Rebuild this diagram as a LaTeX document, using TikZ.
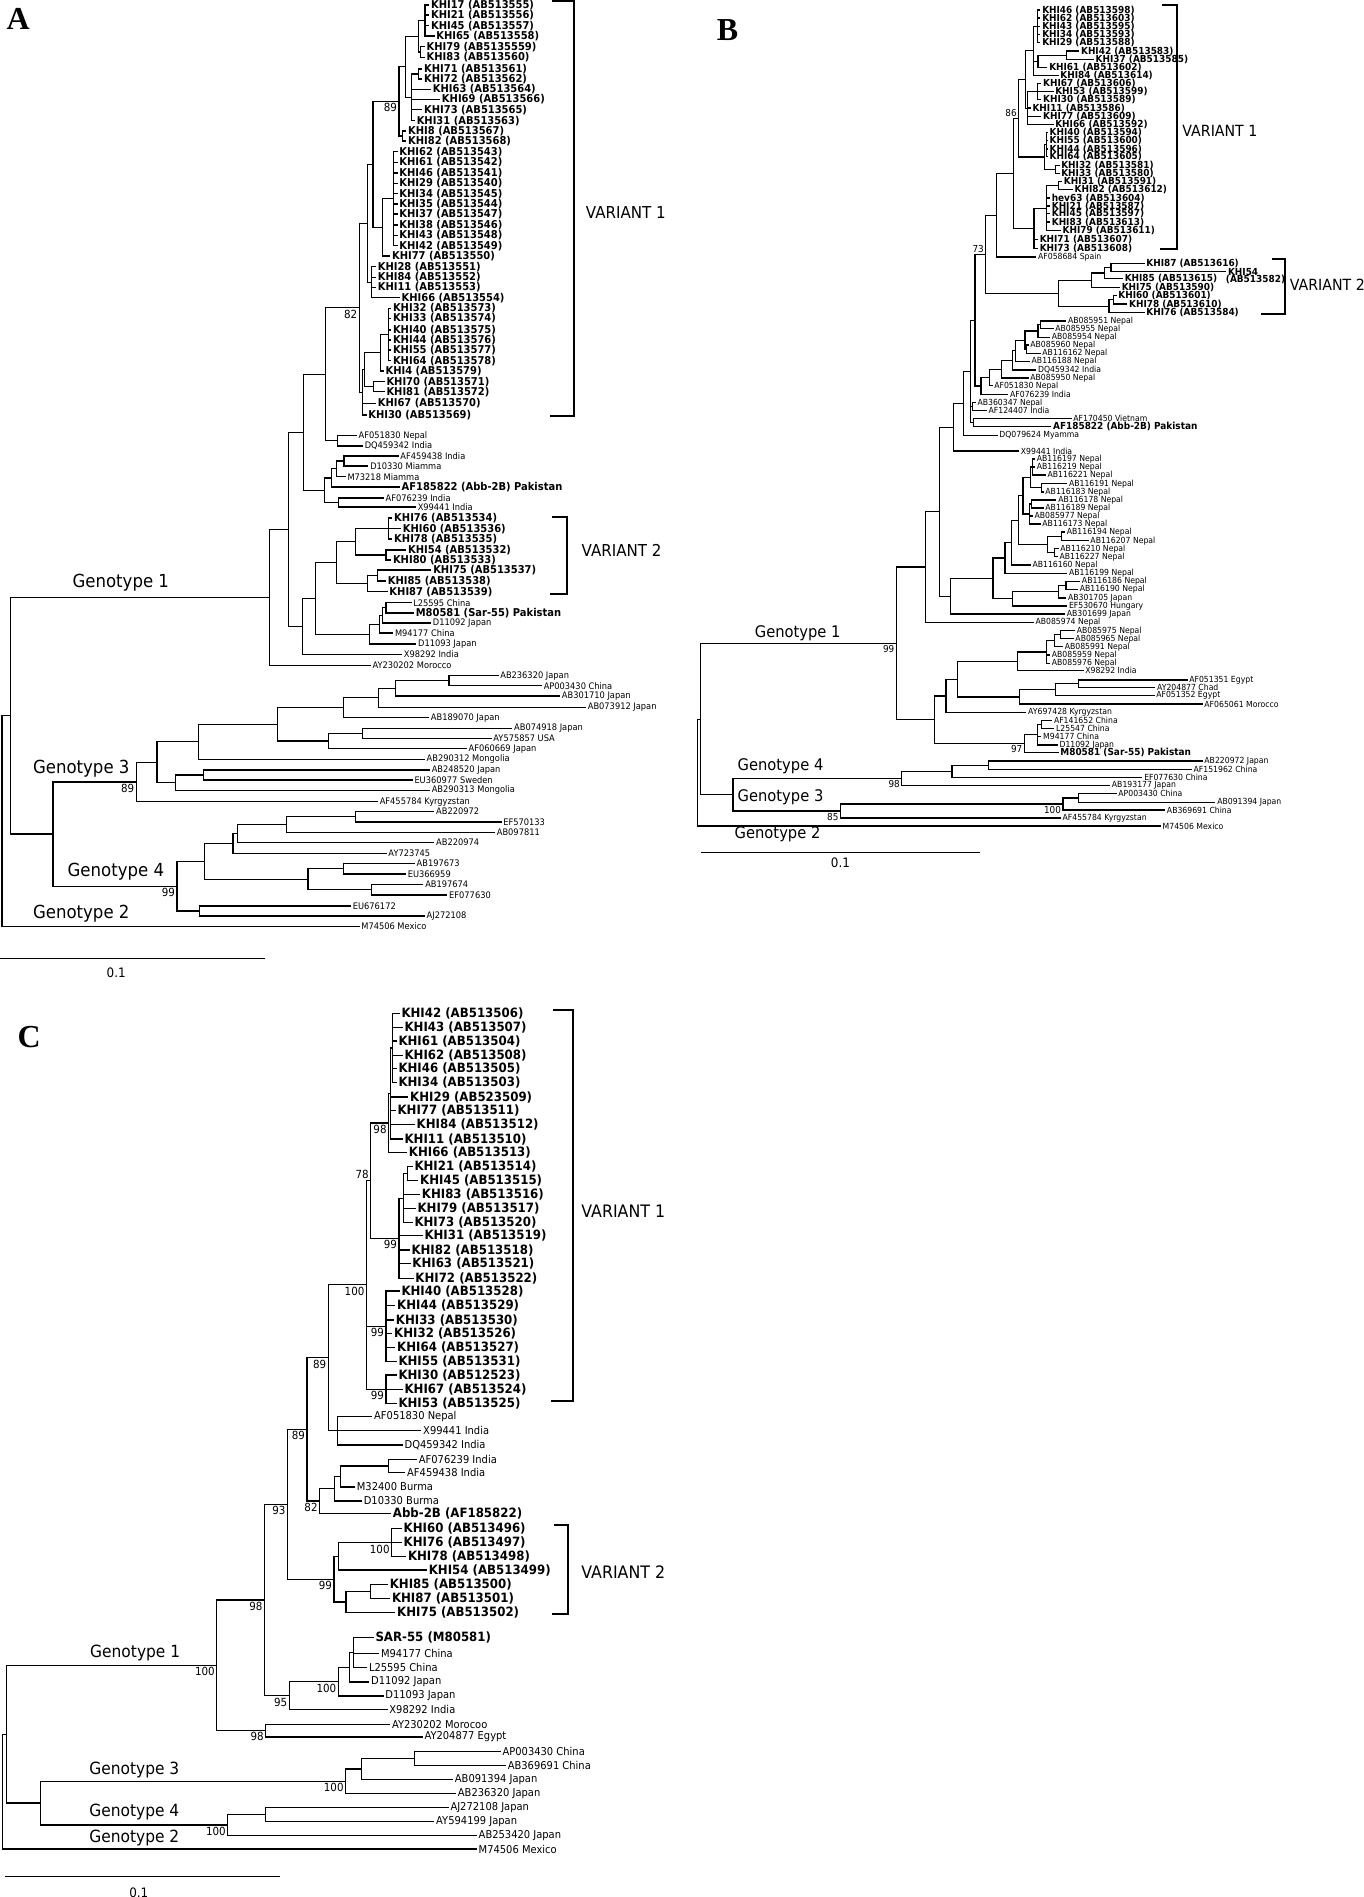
\documentclass[tikz,border=0pt]{standalone}
\usepackage{fontspec}
\newfontfamily\leaffont[FakeStretch=0.92]{DejaVu Sans}
\newfontfamily\panelfont{Liberation Serif}
% leaf: [style] name, parent x, tip x, y, text
\newcommand\hleaf[6][lbl]{%
  \coordinate (#2) at (#4,#5);
  \draw[br] (#3,#5) -- (#2);
  \node[#1] (#2-t) at (#2) {#6};}
% inner node: name, parent x, x, first child, last child
\newcommand\hnode[5]{%
  \path (#4) -- (#5) coordinate[pos=.5] (#1-m);
  \coordinate (#1) at (#3,0 |- #1-m);
  \draw[br] (#1 |- #4) -- (#1 |- #5);
  \draw[br] (#2,0 |- #1) -- (#1);}
% bootstrap value next to a node
\newcommand\hboot[3][north east]{\node[bsl,anchor=#1] (#2-bs) at (#2) {#3};}
\begin{document}
\begin{tikzpicture}[x=0.5pt,y=-0.5pt,
  br/.style={line width=0.6pt,line cap=rect},
  brk/.style={line width=1pt},
  leaf/.style={anchor=west,inner sep=0pt,xshift=1pt},
  boot/.style={inner sep=0.8pt},
  panel/.style={font=\panelfont\bfseries\fontsize{16}{18}\selectfont},
  sc/.style={font=\leaffont\fontsize{6.5}{7}\selectfont}]
\path[use as bounding box,fill=white] (0,0) rectangle (1364,1897);

%%% panel A
\begin{scope}[xscale=0.989,
  lbl/.style={leaf,font=\leaffont\fontsize{4.5}{5}\selectfont},
  klbl/.style={leaf,font=\leaffont\bfseries\fontsize{5.4}{6}\selectfont},
  bsl/.style={boot,font=\leaffont\fontsize{5.6}{6}\selectfont},
  gen/.style={anchor=west,inner sep=0pt,font=\leaffont\fontsize{9}{10}\selectfont}]
\node[panel] (pA) at (18.5,19.3) {A};
% variant 1
\hleaf[klbl]{a17}{429.8}{433.5}{5}{KHI17 (AB513555)}
\hleaf[klbl]{a21}{429.8}{433.5}{15}{KHI21 (AB513556)}
\hleaf[klbl]{a45}{429.8}{433.5}{25.7}{KHI45 (AB513557)}
\hleaf[klbl]{a65}{429.8}{438.8}{36}{KHI65 (AB513558)}
\hnode{an1}{423.2}{429.8}{a17}{a65}
\hleaf[klbl]{a79}{425.4}{429}{46.7}{KHI79 (AB5135559)}
\hleaf[klbl]{a83}{425.4}{429}{57.3}{KHI83 (AB513560)}
\hnode{an2}{423.2}{425.4}{a79}{a83}
\hnode{an3}{410}{423.2}{an1}{an2}
\hleaf[klbl]{a71}{423}{426.5}{69}{KHI71 (AB513561)}
\hleaf[klbl]{a72}{423}{426.5}{79}{KHI72 (AB513562)}
\hnode{an4}{415.8}{423}{a71}{a72}
\hleaf[klbl]{a63}{415.8}{435.3}{89.3}{KHI63 (AB513564)}
\hleaf[klbl]{a69}{415.8}{444.5}{99.3}{KHI69 (AB513566)}
\hleaf[klbl]{a73}{415.8}{426.5}{109.7}{KHI73 (AB513565)}
\hleaf[klbl]{a31}{415.8}{419}{120.7}{KHI31 (AB513563)}
\hnode{an5}{410}{415.8}{an4}{a31}
\hnode{an6}{403.5}{410}{an3}{an5}
\hleaf[klbl]{a8}{407}{410.3}{131}{KHI8 (AB513567)}
\hleaf[klbl]{a82}{407}{410.3}{141}{KHI82 (AB513568)}
\hnode{an7}{403.5}{407}{a8}{a82}
\hnode{an8}{377.2}{403.5}{an6}{an7}
\hboot{an8}{89}
\hleaf[klbl]{a62}{398.2}{401.5}{151.7}{KHI62 (AB513543)}
\hleaf[klbl]{a61}{398.2}{401.5}{162.3}{KHI61 (AB513542)}
\hleaf[klbl]{a46}{398.2}{401.5}{173}{KHI46 (AB513541)}
\hleaf[klbl]{a29}{398.2}{401.5}{183.3}{KHI29 (AB513540)}
\hleaf[klbl]{a34}{398.2}{401.5}{193.7}{KHI34 (AB513545)}
\hleaf[klbl]{a35}{398.2}{401.5}{204}{KHI35 (AB513544)}
\hleaf[klbl]{a37}{398.2}{401.5}{214}{KHI37 (AB513547)}
\hleaf[klbl]{a38}{398.2}{401.5}{225}{KHI38 (AB513546)}
\hleaf[klbl]{a43}{398.2}{401.5}{235.3}{KHI43 (AB513548)}
\hleaf[klbl]{a42}{398.2}{401.5}{245.7}{KHI42 (AB513549)}
\hnode{an9}{386.8}{398.2}{a62}{a42}
\hleaf[klbl]{a77}{386.8}{394}{256}{KHI77 (AB513550)}
\hnode{an10}{377.2}{386.8}{an9}{a77}
\hnode{an11}{372}{377.2}{an8}{an10}
\hleaf[klbl]{a28}{375.9}{379.6}{266.7}{KHI28 (AB513551)}
\hleaf[klbl]{a84}{375.9}{379.6}{277.3}{KHI84 (AB513552)}
\hleaf[klbl]{a11}{375.9}{379.6}{287.3}{KHI11 (AB513553)}
\hleaf[klbl]{a66}{375.9}{403.7}{297.7}{KHI66 (AB513554)}
\hnode{an12}{372}{375.9}{a28}{a66}
\hnode{an13}{363.2}{372}{an11}{an12}
\hleaf[klbl]{a32}{392.5}{395}{308.3}{KHI32 (AB513573)}
\hleaf[klbl]{a33}{392.5}{395}{318.3}{KHI33 (AB513574)}
\hleaf[klbl]{a40}{392.5}{395}{330}{KHI40 (AB513575)}
\hleaf[klbl]{a44}{392.5}{395}{340}{KHI44 (AB513576)}
\hleaf[klbl]{a55}{392.5}{395}{350}{KHI55 (AB513577)}
\hleaf[klbl]{a64}{392.5}{395}{360.7}{KHI64 (AB513578)}
\hnode{an14}{385}{392.5}{a32}{a64}
\hleaf[klbl]{a4}{385}{387.5}{371}{KHI4 (AB513579)}
\hnode{an15}{368.4}{385}{an14}{a4}
\hleaf[klbl]{a70}{378}{388.4}{381.7}{KHI70 (AB513571)}
\hleaf[klbl]{a81}{378}{388.4}{391.7}{KHI81 (AB513572)}
\hnode{an16}{368.4}{378}{a70}{a81}
\hnode{an17}{366.7}{368.4}{an15}{an16}
\hleaf[klbl]{a67}{366.7}{379.6}{403.3}{KHI67 (AB513570)}
\hleaf[klbl]{a30}{366.7}{370}{415}{KHI30 (AB513569)}
\hnode{an18}{363.2}{366.7}{an17}{a30}
\hnode{an19}{329}{363.2}{an13}{an18}
\hboot{an19}{82}
\hleaf{aaf051830}{341.2}{360.3}{435.7}{AF051830 Nepal}
\hleaf{adq459342}{341.2}{366.4}{446}{DQ459342 India}
\hnode{an20}{329}{341.2}{aaf051830}{adq459342}
\hnode{an21}{307}{329}{an19}{an20}
\hleaf{aaf459438}{347.8}{402.4}{456}{AF459438 India}
\hleaf{ad10330}{347.8}{372}{466}{D10330 Miamma}
\hnode{am1}{340}{347.8}{aaf459438}{ad10330}
\hleaf{am73218}{340}{349}{476.7}{M73218 Miamma}
\hnode{am2}{335.5}{340}{am1}{am73218}
\hleaf[klbl]{aaf185822}{335.5}{403.7}{487}{AF185822 (Abb-2B) Pakistan}
\hnode{am3}{328}{335.5}{am2}{aaf185822}
\hleaf{aaf076239}{342}{387.5}{498}{AF076239 India}
\hleaf{ax99441}{342}{420}{507}{X99441 India}
\hnode{am4}{328}{342}{aaf076239}{ax99441}
\hnode{am5}{307}{328}{am3}{am4}
\hnode{an22}{291.7}{307}{an21}{am5}
% variant 2
\hleaf[klbl]{a76}{392.5}{396.2}{518}{KHI76 (AB513534)}
\hleaf[klbl]{a60}{392.5}{405}{528.7}{KHI60 (AB513536)}
\hleaf[klbl]{a78}{392.5}{396.2}{539}{KHI78 (AB513535)}
\hnode{av1}{359.6}{392.5}{a76}{a78}
\hleaf[klbl]{a54}{390.4}{410.3}{550}{KHI54 (AB513532)}
\hleaf[klbl]{a80}{390.4}{395}{560}{KHI80 (AB513533)}
\hnode{av2}{359.6}{390.4}{a54}{a80}
\hnode{av3}{340}{359.6}{av1}{av2}
\hleaf[klbl]{a75}{381.6}{435.7}{570}{KHI75 (AB513537)}
\hleaf[klbl]{a85}{381.6}{389.7}{581}{KHI85 (AB513538)}
\hnode{av4}{372}{381.6}{a75}{a85}
\hleaf[klbl]{a87}{372}{391.4}{591.7}{KHI87 (AB513539)}
\hnode{av5}{340}{372}{av4}{a87}
\hnode{av6}{319.3}{340}{av3}{av5}
\hleaf{al25595}{390.4}{415.5}{602.7}{L25595 China}
\hleaf[klbl]{am80581}{390.4}{418}{613}{M80581 (Sar-55) Pakistan}
\hnode{ac1}{386.8}{390.4}{al25595}{am80581}
\hleaf{ad11092}{386.8}{435.3}{623}{D11092 Japan}
\hnode{ac2}{383.8}{386.8}{ac1}{ad11092}
\hleaf{am94177}{383.8}{397}{633}{M94177 China}
\hnode{ac3}{373.7}{383.8}{ac2}{am94177}
\hleaf{ad11093}{373.7}{420.4}{644}{D11093 Japan}
\hnode{ac4}{319.3}{373.7}{ac3}{ad11093}
\hnode{av7}{305.7}{319.3}{av6}{ac4}
\hleaf{ax98292}{305.7}{406}{654.5}{X98292 India}
\hnode{av8}{291.7}{305.7}{av7}{ax98292}
\hnode{an23}{272.8}{291.7}{an22}{av8}
\hleaf{aay230202}{272.8}{374.3}{665.3}{AY230202 Morocco}
\hnode{ag1}{11}{272.8}{an23}{aay230202}
% genotype 3
\hleaf{aab236320}{454}{503.5}{675.7}{AB236320 Japan}
\hleaf{aap003430}{454}{547.4}{685.7}{AP003430 China}
\hnode{ah1}{400}{454}{aab236320}{aap003430}
\hleaf{aab301710}{400}{565.8}{696}{AB301710 Japan}
\hnode{ah2}{382.9}{400}{ah1}{aab301710}
\hleaf{aab073912}{382.9}{592}{707.3}{AB073912 Japan}
\hnode{ah3}{347.4}{382.9}{ah2}{aab073912}
\hleaf{aab189070}{347.4}{433.3}{717.7}{AB189070 Japan}
\hnode{ah4}{280.7}{347.4}{ah3}{aab189070}
\hleaf{aab074918}{366.2}{517.5}{728.3}{AB074918 Japan}
\hleaf{aay575857}{366.2}{496.5}{738.3}{AY575857 USA}
\hnode{ah5}{332.5}{366.2}{aab074918}{aay575857}
\hleaf{aaf060669}{332.5}{471.5}{748.7}{AF060669 Japan}
\hnode{ah6}{280.7}{332.5}{ah5}{aaf060669}
\hnode{ah7}{200.4}{280.7}{ah4}{ah6}
\hleaf{aab290312}{200.4}{429}{759.3}{AB290312 Mongolia}
\hnode{ah8}{158.8}{200.4}{ah7}{aab290312}
\hleaf{aab248520}{206.1}{434.2}{770}{AB248520 Japan}
\hleaf{aeu360977}{206.1}{416.7}{780}{EU360977 Sweden}
\hnode{ah9}{177.2}{206.1}{aab248520}{aeu360977}
\hleaf{aab290313}{177.2}{434.2}{790.3}{AB290313 Mongolia}
\hnode{ah10}{158.8}{177.2}{ah9}{aab290313}
\hnode{ah11}{137.7}{158.8}{ah8}{ah10}
\hleaf{aaf455784}{137.7}{381.6}{801.7}{AF455784 Kyrgyzstan}
\hnode{ag3}{53.5}{137.7}{ah11}{aaf455784}
\hboot{ag3}{89}
% genotype 4
\hleaf{aab220972}{359.6}{438.6}{811.7}{AB220972}
\hleaf{aef570133}{359.6}{506.6}{822}{EF570133}
\hnode{ak1}{289.5}{359.6}{aab220972}{aef570133}
\hleaf{aab097811}{289.5}{500}{832.3}{AB097811}
\hnode{ak2}{240.4}{289.5}{ak1}{aab097811}
\hleaf{aab220974}{240.4}{438.6}{842.7}{AB220974}
\hnode{ak3}{235.5}{240.4}{ak2}{aab220974}
\hleaf{aay723745}{235.5}{390.4}{853.3}{AY723745}
\hnode{ak4}{206.6}{235.5}{ak3}{aay723745}
\hleaf{aab197673}{347.4}{418.9}{863.7}{AB197673}
\hleaf{aeu366959}{347.4}{410}{874}{EU366959}
\hnode{ak5}{311.4}{347.4}{aab197673}{aeu366959}
\hleaf{aab197674}{375.9}{427.6}{884.3}{AB197674}
\hleaf{aef077630}{375.9}{451.8}{895}{EF077630}
\hnode{ak6}{311.4}{375.9}{aab197674}{aef077630}
\hnode{ak7}{206.6}{311.4}{ak5}{ak6}
\hnode{ak8}{179}{206.6}{ak4}{ak7}
\hleaf{aeu676172}{201.8}{354.4}{906}{EU676172}
\hleaf{aaj272108}{201.8}{429}{916}{AJ272108}
\hnode{ak9}{179}{201.8}{aeu676172}{aaj272108}
\hnode{ag4}{53.5}{179}{ak8}{ak9}
\hboot{ag4}{99}
\hnode{ar2}{11}{53.5}{ag3}{ag4}
\hnode{ar1}{2}{11}{ag1}{ar2}
\hleaf{am74506}{2}{363}{926.3}{M74506 Mexico}
\hnode{aroot}{2}{2}{ar1}{am74506}
% labels
\node[gen] (agt1) at (73,583) {Genotype 1};
\node[gen] (agt3) at (33,768.3) {Genotype 3};
\node[gen] (agt4) at (68,871.7) {Genotype 4};
\node[gen] (agt2) at (33,913.3) {Genotype 2};
\draw[brk] (558,1) -- (580,1) -- (580,415.7) -- (556,415.7);
\node[gen,font=\leaffont\fontsize{8.2}{9}\selectfont] (avar1) at (592,212.7) {VARIANT 1};
\draw[brk] (558,516.7) -- (573.7,516.7) -- (573.7,594.3) -- (556,594.3);
\node[gen,font=\leaffont\fontsize{8.2}{9}\selectfont] (avar2) at (587.7,550.7) {VARIANT 2};
\draw[br] (0,958.3) -- (267.5,958.3);
\node[sc] (asc) at (117.5,972.7) {0.1};
\end{scope}

%%% panel B
\begin{scope}[xshift=4pt,xscale=0.9884,
  lbl/.style={leaf,font=\leaffont\fontsize{4.2}{5}\selectfont},
  klbl/.style={leaf,font=\leaffont\bfseries\fontsize{4.85}{5}\selectfont},
  bsl/.style={boot,font=\leaffont\fontsize{4.8}{5}\selectfont},
  gen/.style={anchor=west,inner sep=0pt,font=\leaffont\fontsize{8}{9}\selectfont}]
\node[panel] (pB) at (728,30) {B};
% variant 1
\hleaf[klbl]{b46}{1041.3}{1044}{10}{KHI46 (AB513598)}
\hleaf[klbl]{b62}{1041.3}{1044}{18}{KHI62 (AB513603)}
\hleaf[klbl]{b43}{1041.3}{1044}{26.3}{KHI43 (AB513595)}
\hleaf[klbl]{b34}{1041.3}{1044}{34.3}{KHI34 (AB513593)}
\hleaf[klbl]{b29}{1041.3}{1044}{42.7}{KHI29 (AB513588)}
\hnode{bp1}{1037.8}{1041.3}{b46}{b29}
\hleaf[klbl]{b42}{1071.3}{1083.3}{51}{KHI42 (AB513583)}
\hleaf[klbl]{b37}{1071.3}{1098.1}{59.3}{KHI37 (AB513585)}
\hnode{bp1b}{1042.2}{1071.3}{b42}{b37}
\hleaf[klbl]{b61}{1042.2}{1051.1}{67.3}{KHI61 (AB513602)}
\hnode{bp2}{1037.8}{1042.2}{bp1b}{b61}
\hleaf[klbl]{b84}{1037.8}{1062.4}{75.3}{KHI84 (AB513614)}
\hnode{bp3}{1029.1}{1037.8}{bp1}{b84}
\hleaf[klbl]{b67}{1041.3}{1045}{83.7}{KHI67 (AB513606)}
\hleaf[klbl]{b53}{1041.3}{1057.2}{91.7}{KHI53 (AB513599)}
\hleaf[klbl]{b30}{1041.3}{1045}{99.7}{KHI30 (AB513589)}
\hnode{bp4}{1031.3}{1041.3}{b67}{b30}
\hleaf[klbl]{b11}{1031.3}{1034.2}{108}{KHI11 (AB513586)}
\hleaf[klbl]{b77}{1031.3}{1045}{116.3}{KHI77 (AB513609)}
\hleaf[klbl]{b66}{1031.3}{1057.2}{124.7}{KHI66 (AB513592)}
\hnode{bp5}{1029.1}{1031.3}{bp4}{b66}
\hnode{bq1}{1022.6}{1029.1}{bp3}{bp5}
\hleaf[klbl]{b40}{1050.9}{1051.5}{132.3}{KHI40 (AB513594)}
\hleaf[klbl]{b55}{1050.9}{1051.5}{140.7}{KHI55 (AB513600)}
\hleaf[klbl]{b44}{1050.9}{1051.5}{149}{KHI44 (AB513596)}
\hleaf[klbl]{b64}{1050.9}{1051.5}{156.7}{KHI64 (AB513605)}
\hnode{bp6}{1049.1}{1050.9}{b40}{b64}
\hleaf[klbl]{b32}{1059.6}{1063.3}{165.3}{KHI32 (AB513581)}
\hleaf[klbl]{b33}{1059.6}{1063.3}{173.3}{KHI33 (AB513580)}
\hnode{bp7}{1049.1}{1059.6}{b32}{b33}
\hnode{bp8}{1022.6}{1049.1}{bp6}{bp7}
\hnode{bp9}{1017}{1022.6}{bq1}{bp8}
\hboot[south east]{bp9}{86}
\hleaf[klbl]{b31}{1063}{1065.9}{181.3}{KHI31 (AB513591)}
\hleaf[klbl]{b82}{1063}{1076.8}{189.7}{KHI82 (AB513612)}
\hnode{br0}{1050.9}{1063}{b31}{b82}
\hleaf[klbl]{bhev63}{1050.9}{1053.7}{198}{hev63 (AB513604)}
\hleaf[klbl]{b21}{1050.9}{1053.7}{206}{KHI21 (AB513587)}
\hleaf[klbl]{b45}{1050.9}{1053.7}{213.7}{KHI45 (AB513597)}
\hleaf[klbl]{b83}{1050.9}{1053.7}{222}{KHI83 (AB513613)}
\hleaf[klbl]{b79}{1050.9}{1064.6}{230.7}{KHI79 (AB513611)}
\hnode{br1}{1038}{1050.9}{br0}{b79}
\hleaf[klbl]{b71}{1038}{1041.5}{239.3}{KHI71 (AB513607)}
\hleaf[klbl]{b73}{1038}{1041.5}{248.3}{KHI73 (AB513608)}
\hnode{br2}{1017}{1038}{br1}{b73}
\hnode{br3}{1000}{1017}{bp9}{br2}
\hleaf{baf058684}{1000}{1039.8}{257}{AF058684 Spain}
\hnode{br4}{989.3}{1000}{br3}{baf058684}
% variant 2
\hleaf[klbl]{b87}{1116}{1149.4}{263.3}{KHI87 (AB513616)}
\hleaf[klbl]{b54}{1116}{1232}{271.7}{KHI54}
\node[klbl] (b54-t2) at (1229.8,279.3) {(AB513582)};
\hnode{bv1}{1109.6}{1116}{b87}{b54}
\hleaf[klbl]{b85}{1109.6}{1127.5}{278.3}{KHI85 (AB513615)}
\hnode{bv2}{1096.5}{1109.6}{bv1}{b85}
\hleaf[klbl]{b75}{1096.5}{1124.5}{287.3}{KHI75 (AB513590)}
\hnode{bv3}{1062.6}{1096.5}{bv2}{b75}
\hleaf[klbl]{b60}{1118.3}{1121.1}{295.7}{KHI60 (AB513601)}
\hleaf[klbl]{b78}{1118.3}{1132}{304}{KHI78 (AB513610)}
\hnode{bv4}{1114}{1118.3}{b60}{b78}
\hleaf[klbl]{b76}{1114}{1149.4}{312.7}{KHI76 (AB513584)}
\hnode{bv5}{1062.6}{1114}{bv4}{b76}
\hnode{bv6}{989.3}{1062.6}{bv3}{bv5}
\hnode{br5}{978.3}{989.3}{br4}{bv6}
\hboot[south east]{br5}{73}
% Nepal / India
\hleaf{b951}{1044.3}{1070.2}{321}{AB085951 Nepal}
\hleaf{b955}{1044.3}{1057.2}{328.7}{AB085955 Nepal}
\hnode{bb1}{1042.2}{1044.3}{b951}{b955}
\hleaf{b954}{1042.2}{1053.7}{337.3}{AB085954 Nepal}
\hnode{bb2}{1029}{1042.2}{bb1}{b954}
\hleaf{b960}{1030.5}{1032}{345}{AB085960 Nepal}
\hleaf{b162}{1030.5}{1044.2}{353.3}{AB116162 Nepal}
\hnode{bb3}{1029}{1030.5}{b960}{b162}
\hnode{bb4}{1019.6}{1029}{bb2}{bb3}
\hleaf{b188}{1019.6}{1033.3}{361.3}{AB116188 Nepal}
\hnode{bb5}{1016.1}{1019.6}{bb4}{b188}
\hleaf{bdq459342}{1016.1}{1039.8}{370}{DQ459342 India}
\hnode{bb6}{1005.2}{1016.1}{bb5}{bdq459342}
\hleaf{b950}{1005.2}{1032}{378}{AB085950 Nepal}
\hnode{bb7}{993}{1005.2}{bb6}{b950}
\hleaf{baf051830}{993}{995.5}{385.7}{AF051830 Nepal}
\hnode{bb8}{984.5}{993}{bb7}{baf051830}
\hleaf{baf076239}{984.5}{1011.5}{394.7}{AF076239 India}
\hnode{bb9}{978.3}{984.5}{bb8}{baf076239}
\hnode{bx}{974}{978.3}{br5}{bb9}
\hleaf{bab360347}{976}{978.5}{402.7}{AB360347 Nepal}
\hleaf{baf124407}{976}{989.8}{410.3}{AF124407 India}
\hnode{bya}{974}{976}{bab360347}{baf124407}
\hleaf{baf170450}{976.7}{1075.5}{418.3}{AF170450 Vietnam}
\hleaf[klbl]{baf185822}{976.7}{1055}{426.3}{AF185822 (Abb-2B) Pakistan}
\hnode{byb}{974}{976.7}{baf170450}{baf185822}
\hnode{by}{966.5}{974}{bx}{byb}
\hleaf{bdq079624}{966.5}{1000.7}{435.3}{DQ079624 Myamma}
\hnode{bz}{956.4}{966.5}{by}{bdq079624}
\hleaf{bx99441}{956.4}{1022.4}{451}{X99441 India}
\hnode{bw}{942.5}{956.4}{bz}{bx99441}
\hleaf{b197}{1036.5}{1038.5}{459}{AB116197 Nepal}
\hleaf{b219}{1036.5}{1038.5}{467}{AB116219 Nepal}
\hleaf{b221}{1036.5}{1049.4}{475}{AB116221 Nepal}
\hnode{bn1}{1034.8}{1036.5}{b197}{b221}
\hleaf{b191}{1045.7}{1071.1}{483.7}{AB116191 Nepal}
\hleaf{b183}{1045.7}{1047.2}{492}{AB116183 Nepal}
\hnode{bn2}{1034.8}{1045.7}{b191}{b183}
\hnode{bn3}{1027}{1034.8}{bn1}{bn2}
\hleaf{b178}{1035.7}{1060.2}{500}{AB116178 Nepal}
\hleaf{b189}{1035.7}{1047.2}{508}{AB116189 Nepal}
\hnode{bn4}{1033.5}{1035.7}{b178}{b189}
\hleaf{b977}{1033.5}{1036.3}{516}{AB085977 Nepal}
\hleaf{b173}{1033.5}{1044.2}{524}{AB116173 Nepal}
\hnode{bn5}{1027}{1033.5}{bn4}{b173}
\hnode{bn6}{1022.6}{1027}{bn3}{bn5}
\hleaf{b194}{1066}{1068.9}{532}{AB116194 Nepal}
\hleaf{b207}{1066}{1092.8}{540.7}{AB116207 Nepal}
\hnode{bn7}{1051.7}{1066}{b194}{b207}
\hleaf{b210}{1058.7}{1062.4}{548.7}{AB116210 Nepal}
\hleaf{b227}{1058.7}{1061.5}{556.7}{AB116227 Nepal}
\hnode{bn8}{1051.7}{1058.7}{b210}{b227}
\hnode{bn9}{1022.6}{1051.7}{bn7}{bn8}
\hnode{bn10}{1015.2}{1022.6}{bn6}{bn9}
\hleaf{b160}{1015.2}{1034.2}{565}{AB116160 Nepal}
\hnode{bn11}{1008.7}{1015.2}{bn10}{b160}
\hleaf{b199}{1008.7}{1071.1}{573.3}{AB116199 Nepal}
\hnode{bn12}{996.5}{1008.7}{bn11}{b199}
\hleaf{b186}{1070.4}{1084.2}{581.3}{AB116186 Nepal}
\hleaf{b190}{1070.4}{1082}{589.3}{AB116190 Nepal}
\hnode{bn13}{1063}{1070.4}{b186}{b190}
\hleaf{bab301705}{1063}{1070.2}{598}{AB301705 Japan}
\hnode{bn14}{1016}{1063}{bn13}{bab301705}
\hleaf{bef530670}{1016}{1071.1}{606}{EF530670 Hungary}
\hnode{bn15}{996.5}{1016}{bn14}{bef530670}
\hnode{bn16}{953.9}{996.5}{bn12}{bn15}
\hleaf{bab301699}{953.9}{1068.9}{614}{AB301699 Japan}
\hnode{bn17}{942.5}{953.9}{bn16}{bab301699}
\hnode{bv}{928.3}{942.5}{bw}{bn17}
\hleaf{b974}{928.3}{1037.2}{622.3}{AB085974 Nepal}
\hnode{bu}{898.7}{928.3}{bv}{b974}
\hleaf{b975}{1064.8}{1078.9}{630.7}{AB085975 Nepal}
\hleaf{b965}{1064.8}{1077.6}{638.7}{AB085965 Nepal}
\hnode{bl1}{1058.7}{1064.8}{b975}{b965}
\hleaf{b991}{1058.7}{1066.8}{646.7}{AB085991 Nepal}
\hnode{bl2}{1050.9}{1058.7}{bl1}{b991}
\hleaf{b959}{1050.9}{1053.7}{655}{AB085959 Nepal}
\hleaf{b976}{1050.9}{1053.7}{663.3}{AB085976 Nepal}
\hnode{bl3}{1021.3}{1050.9}{bl2}{b976}
\hleaf{bx98292}{1021.3}{1087.6}{670.7}{X98292 India}
\hnode{bl4}{960.4}{1021.3}{bl3}{bx98292}
\hleaf{baf051351}{1083.5}{1192.8}{680}{AF051351 Egypt}
\hleaf{bay204877}{1083.5}{1160.2}{687.7}{AY204877 Chad}
\hnode{be1}{1059.6}{1083.5}{baf051351}{bay204877}
\hleaf{baf051352}{1059.6}{1159.4}{695.7}{AF051352 Egypt}
\hnode{be2}{1023.5}{1059.6}{be1}{baf051352}
\hleaf{baf065061}{1023.5}{1208.1}{704}{AF065061 Morocco}
\hnode{be3}{960.4}{1023.5}{be2}{baf065061}
\hnode{bk1}{949.1}{960.4}{bl4}{be3}
\hleaf{bay697428}{949.1}{1029.8}{712.7}{AY697428 Kyrgyzstan}
\hnode{bk2}{937.8}{949.1}{bk1}{bay697428}
\hleaf{baf141652}{1045.7}{1055.9}{720.7}{AF141652 China}
\hleaf{bl25547}{1045.7}{1058.1}{728.7}{L25547 China}
\hnode{bc1}{1041.3}{1045.7}{baf141652}{bl25547}
\hleaf{bm94177}{1041.3}{1045}{736.7}{M94177 China}
\hleaf{bd11092}{1041.3}{1061.5}{745}{D11092 Japan}
\hnode{bc2}{1028.3}{1041.3}{bc1}{bd11092}
\hleaf[klbl]{bm80581}{1028.3}{1062.4}{752.7}{M80581 (Sar-55) Pakistan}
\hnode{bc3}{937.8}{1028.3}{bc2}{bm80581}
\hboot{bc3}{97}
\hnode{bk3}{898.7}{937.8}{bk2}{bc3}
\hnode{bg1}{700.9}{898.7}{bu}{bk3}
\hboot{bg1}{99}
% genotypes 4 and 3
\hleaf{bab220972}{992.2}{1208.1}{761}{AB220972 Japan}
\hleaf{baf151962}{992.2}{1197.2}{769.7}{AF151962 China}
\hnode{bd1}{955.2}{992.2}{bab220972}{baf151962}
\hleaf{bef077630}{955.2}{1147.2}{777.7}{EF077630 China}
\hnode{bd2}{904.3}{955.2}{bd1}{bef077630}
\hleaf{bab193177}{904.3}{1114.5}{785.7}{AB193177 Japan}
\hnode{bg4}{733.5}{904.3}{bd2}{bab193177}
\hboot{bg4}{98}
\hleaf{bap003430}{1083.5}{1121.1}{793.7}{AP003430 China}
\hleaf{bab091394}{1083.5}{1221.1}{802.3}{AB091394 Japan}
\hnode{bf1}{1067.4}{1083.5}{bap003430}{bab091394}
\hleaf{bab369691}{1067.4}{1170.2}{810}{AB369691 China}
\hnode{bf2}{842.2}{1067.4}{bf1}{bab369691}
\hboot{bf2}{100}
\hleaf{baf455784}{842.2}{1064.6}{818}{AF455784 Kyrgyzstan}
\hnode{bg3}{733.5}{842.2}{bf2}{baf455784}
\hboot{bg3}{85}
\hnode{br2n}{700.9}{733.5}{bg4}{bg3}
\hnode{br1n}{697.8}{700.9}{bg1}{br2n}
\hleaf{bm74506}{697.8}{1165.9}{826}{M74506 Mexico}
\hnode{broot}{697.8}{697.8}{br1n}{bm74506}
% labels
\node[gen] (bgt1) at (755.2,633.3) {Genotype 1};
\node[gen] (bgt4) at (737.8,766.7) {Genotype 4};
\node[gen] (bgt3) at (737.8,797.7) {Genotype 3};
\node[gen] (bgt2) at (734.8,834.3) {Genotype 2};
\draw[brk] (1167.4,5) -- (1182.2,5) -- (1182.2,249) -- (1166,249);
\node[gen,font=\leaffont\fontsize{7.7}{8}\selectfont] (bvar1) at (1187.8,131) {VARIANT 1};
\draw[brk] (1279,259.3) -- (1292.2,259.3) -- (1292.2,313.7) -- (1268,313.7);
\node[gen,font=\leaffont\fontsize{7.7}{8}\selectfont] (bvar2) at (1296.5,284.3) {VARIANT 2};
\draw[br] (702.2,852.7) -- (982.6,852.7);
\node[sc] (bsc) at (842.2,862.7) {0.1};
\end{scope}

%%% panel C
\begin{scope}[
  lbl/.style={leaf,font=\leaffont\fontsize{5.4}{6}\selectfont},
  klbl/.style={leaf,font=\leaffont\bfseries\fontsize{6.4}{7}\selectfont},
  bsl/.style={boot,font=\leaffont\fontsize{5.6}{6}\selectfont},
  gen/.style={anchor=west,inner sep=0pt,font=\leaffont\fontsize{8.4}{9}\selectfont}]
\node[panel] (pC) at (29.3,1036.7) {C};
% variant 1
\hleaf[klbl]{c42}{392.5}{399.1}{1013.3}{KHI42 (AB513506)}
\hleaf[klbl]{c43}{392.5}{402.2}{1027.3}{KHI43 (AB513507)}
\hleaf[klbl]{c61}{392.5}{396.1}{1041}{KHI61 (AB513504)}
\hleaf[klbl]{c62}{392.5}{402.2}{1055.3}{KHI62 (AB513508)}
\hleaf[klbl]{c46}{392.5}{396.1}{1068.7}{KHI46 (AB513505)}
\hleaf[klbl]{c34}{392.5}{396.1}{1082.7}{KHI34 (AB513503)}
\hnode{ca}{390.3}{392.5}{c42}{c34}
\hleaf[klbl]{c29}{390.3}{407.8}{1097}{KHI29 (AB523509)}
\hleaf[klbl]{c77}{390.3}{395.2}{1110.7}{KHI77 (AB513511)}
\hleaf[klbl]{c84}{390.3}{414.3}{1124.3}{KHI84 (AB513512)}
\hleaf[klbl]{c11}{390.3}{402.2}{1139}{KHI11 (AB513510)}
\hnode{cb}{388.6}{390.3}{ca}{c11}
\hleaf[klbl]{c66}{388.6}{406.5}{1152.3}{KHI66 (AB513513)}
\hnode{cc}{370.8}{388.6}{cb}{c66}
\hboot{cc}{98}
\hleaf[klbl]{c21}{407.6}{412.1}{1166.7}{KHI21 (AB513514)}
\hleaf[klbl]{c45}{407.6}{417.8}{1180.7}{KHI45 (AB513515)}
\hnode{cd}{403.3}{407.6}{c21}{c45}
\hleaf[klbl]{c83}{403.3}{419.5}{1194.3}{KHI83 (AB513516)}
\hleaf[klbl]{c79}{403.3}{415.2}{1208.3}{KHI79 (AB513517)}
\hleaf[klbl]{c73}{403.3}{412.1}{1222.7}{KHI73 (AB513520)}
\hnode{ce}{399}{403.3}{cd}{c73}
\hleaf[klbl]{c31}{399}{422.1}{1235.7}{KHI31 (AB513519)}
\hleaf[klbl]{c82}{399}{409.1}{1250}{KHI82 (AB513518)}
\hleaf[klbl]{c63}{399}{410}{1263.7}{KHI63 (AB513521)}
\hleaf[klbl]{c72}{399}{413}{1278.3}{KHI72 (AB513522)}
\hnode{cg}{370.8}{399}{ce}{c72}
\hboot{cg}{99}
\hnode{ch}{366.4}{370.8}{cc}{cg}
\hboot[south east]{ch}{78}
\hleaf[klbl]{c40}{386}{399.1}{1291}{KHI40 (AB513528)}
\hleaf[klbl]{c44}{386}{394.8}{1305.7}{KHI44 (AB513529)}
\hleaf[klbl]{c33}{386}{393.5}{1320}{KHI33 (AB513530)}
\hleaf[klbl]{c32}{386}{391.8}{1333.3}{KHI32 (AB513526)}
\hleaf[klbl]{c64}{386}{394.8}{1347.3}{KHI64 (AB513527)}
\hleaf[klbl]{c55}{386}{396.1}{1361.7}{KHI55 (AB513531)}
\hnode{ci}{366.4}{386}{c40}{c55}
\hboot{ci}{99}
\hleaf[klbl]{c30}{386}{396.1}{1375}{KHI30 (AB512523)}
\hleaf[klbl]{c67}{386}{402.2}{1389.3}{KHI67 (AB513524)}
\hleaf[klbl]{c53}{386}{396.1}{1403.3}{KHI53 (AB513525)}
\hnode{cj}{366.4}{386}{c30}{c53}
\hboot{cj}{99}
\hnode{ck}{328.3}{366.4}{ch}{cj}
\hboot{ck}{100}
\hleaf{caf051830}{337.4}{371.8}{1416.7}{AF051830 Nepal}
\hleaf{cx99441}{337.4}{420.8}{1430.7}{X99441 India}
\hleaf{cdq459342}{337.4}{402.2}{1445}{DQ459342 India}
\hnode{cl}{328.3}{337.4}{caf051830}{cdq459342}
\hnode{cm}{307}{328.3}{ck}{cl}
\hboot{cm}{89}
\hleaf{caf076239}{388.1}{416.5}{1459.3}{AF076239 India}
\hleaf{caf459438}{388.1}{404.8}{1472.7}{AF459438 India}
\hnode{cn}{340.4}{388.1}{caf076239}{caf459438}
\hleaf{cm32400}{340.4}{354.5}{1487}{M32400 Burma}
\hnode{co}{334.8}{340.4}{cn}{cm32400}
\hleaf{cd10330}{334.8}{361.4}{1501}{D10330 Burma}
\hnode{cp}{319.6}{334.8}{co}{cd10330}
\hleaf[klbl]{cabb}{319.6}{390.5}{1513.3}{Abb-2B (AF185822)}
\hnode{cq}{307}{319.6}{cp}{cabb}
\hboot{cq}{82}
\hnode{cr}{287.5}{307}{cm}{cq}
\hboot{cr}{89}
% variant 2
\hleaf[klbl]{c60}{391.6}{401.3}{1528.7}{KHI60 (AB513496)}
\hleaf[klbl]{c76}{391.6}{401.3}{1542.7}{KHI76 (AB513497)}
\hleaf[klbl]{c78}{391.6}{405.6}{1556.7}{KHI78 (AB513498)}
\hnode{cs}{338.2}{391.6}{c60}{c78}
\hboot{cs}{100}
\hleaf[klbl]{c54}{338.2}{426.4}{1570}{KHI54 (AB513499)}
\hnode{ct}{333.9}{338.2}{cs}{c54}
\hleaf[klbl]{c85}{370.8}{387.4}{1584.3}{KHI85 (AB513500)}
\hleaf[klbl]{c87}{370.8}{389.6}{1598.7}{KHI87 (AB513501)}
\hnode{cu}{346}{370.8}{c85}{c87}
\hleaf[klbl]{c75}{346}{394.8}{1612.3}{KHI75 (AB513502)}
\hnode{cv}{333.9}{346}{cu}{c75}
\hnode{cw}{287.5}{333.9}{ct}{cv}
\hboot{cw}{99}
\hnode{cx}{264.5}{287.5}{cr}{cw}
\hboot{cx}{93}
\hleaf[klbl]{csar55}{353.4}{373.1}{1637.7}{SAR-55 (M80581)}
\hleaf{cm94177}{353.4}{378.7}{1653.3}{M94177 China}
\hleaf{cl25595}{353.4}{366.6}{1667.7}{L25595 China}
\hnode{cy}{349.1}{353.4}{csar55}{cl25595}
\hleaf{cd11092}{349.1}{368.8}{1682}{D11092 Japan}
\hnode{cz}{338.2}{349.1}{cy}{cd11092}
\hleaf{cd11093}{338.2}{383}{1696}{D11093 Japan}
\hnode{caa}{289.2}{338.2}{cz}{cd11093}
\hboot{caa}{100}
\hleaf{cx98292}{289.2}{387}{1709.7}{X98292 India}
\hnode{cab}{264.5}{289.2}{caa}{cx98292}
\hboot{cab}{95}
\hnode{cac}{216.8}{264.5}{cx}{cab}
\hboot{cac}{98}
\hleaf{cay230202}{265.8}{389.6}{1724.3}{AY230202 Morocoo}
\hleaf{cay204877}{265.8}{422.1}{1737}{AY204877 Egypt}
\hnode{cad}{216.8}{265.8}{cay230202}{cay204877}
\hboot{cad}{98}
\hnode{cae}{6.5}{216.8}{cac}{cad}
\hboot{cae}{100}
% genotypes 3 and 4
\hleaf{cap003430}{414.1}{500.2}{1751.7}{AP003430 China}
\hleaf{cab369691}{414.1}{505.4}{1765.7}{AB369691 China}
\hnode{ce1}{361.2}{414.1}{cap003430}{cab369691}
\hleaf{cab091394}{361.2}{452.5}{1779.3}{AB091394 Japan}
\hnode{ce2}{345.6}{361.2}{ce1}{cab091394}
\hleaf{cab236320}{345.6}{455.5}{1793.3}{AB236320 Japan}
\hnode{ce3}{40.3}{345.6}{ce2}{cab236320}
\hboot{ce3}{100}
\hleaf{caj272108}{265.8}{448.1}{1807.7}{AJ272108 Japan}
\hleaf{cay594199}{265.8}{433.8}{1821.7}{AY594199 Japan}
\hnode{cf1}{227.7}{265.8}{caj272108}{cay594199}
\hleaf{cab253420}{227.7}{476.3}{1835.3}{AB253420 Japan}
\hnode{cf2}{40.3}{227.7}{cf1}{cab253420}
\hboot{cf2}{100}
\hnode{cr2}{6.5}{40.3}{ce3}{cf2}
\hnode{cr1}{2.2}{6.5}{cae}{cr2}
\hleaf{cm74506}{2.2}{476.3}{1849}{M74506 Mexico}
\hnode{croot}{2.2}{2.2}{cr1}{cm74506}
% labels
\node[gen] (cgt1) at (89.8,1652.7) {Genotype 1};
\node[gen] (cgt3) at (88.9,1770) {Genotype 3};
\node[gen] (cgt4) at (88.9,1812) {Genotype 4};
\node[gen] (cgt2) at (88.9,1837.7) {Genotype 2};
\draw[brk] (553,1010) -- (573.3,1010) -- (573.3,1400.7) -- (550.7,1400.7);
\node[gen,font=\leaffont\fontsize{8.6}{9}\selectfont] (cvar1) at (581,1211.7) {VARIANT 1};
\draw[brk] (554.2,1525) -- (568,1525) -- (568,1614.3) -- (551.6,1614.3);
\node[gen,font=\leaffont\fontsize{8.6}{9}\selectfont] (cvar2) at (581,1571.7) {VARIANT 2};
\draw[br] (5.2,1876.7) -- (279.7,1876.7);
\node[sc] (csc) at (138.8,1892.7) {0.1};
\end{scope}
\end{tikzpicture}
\end{document}
